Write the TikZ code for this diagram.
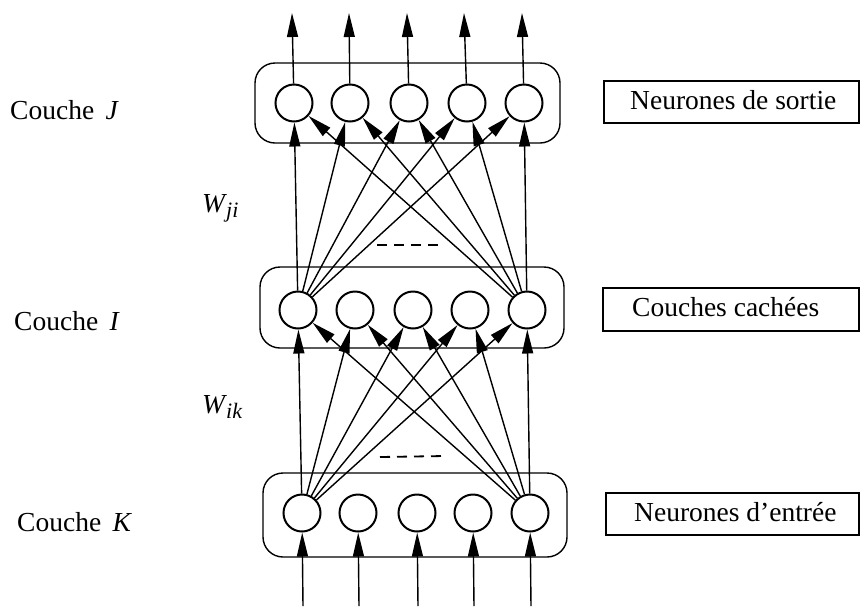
\documentclass[tikz,border=0pt]{standalone}
\usepackage{fontspec}
\setmainfont{Liberation Serif}
\usetikzlibrary{arrows.meta}
\begin{document}
\begin{tikzpicture}[x=1pt,y=-1pt,
  neuron/.style={circle,draw,line width=2pt,minimum size=37pt,inner sep=0pt},
  layerbox/.style={draw,line width=1.4pt,rounded corners=20pt,inner sep=0pt},
  namebox/.style={draw,line width=1.5pt,inner sep=0pt,anchor=north west},
  arr/.style={line width=1.4pt,-{Triangle[length=24pt,width=11pt]}},
  lbl/.style={font=\fontsize{27.5}{30}\selectfont,anchor=base west,inner sep=0pt},
  boxtext/.style={font=\fontsize{27.5}{30}\selectfont,inner sep=0pt}]
\useasboundingbox (0,0) rectangle (860,606);

% layer frames
\node[layerbox,minimum width=305pt,minimum height=80pt] (boxJ) at (407.5,103) {};
\node[layerbox,minimum width=304pt,minimum height=81pt] (boxI) at (412,307.5) {};
\node[layerbox,minimum width=304pt,minimum height=84pt] (boxK) at (415,515) {};

% neurons
\foreach \n/\x in {1/294,2/350,3/409,4/467,5/524}
  \node[neuron] (j\n) at (\x,103) {};
\foreach \n/\x in {1/298,2/355,3/413,4/470,5/527}
  \node[neuron] (i\n) at (\x,310) {};
\foreach \n/\x in {1/302,2/358,3/417,4/473,5/530}
  \node[neuron] (k\n) at (\x,513) {};

% outputs and inputs
\foreach \n/\x in {1/292,2/349,3/407,4/464,5/522}
  \coordinate (o\n) at (\x,13);
\foreach \n/\x in {1/303,2/359,3/418,4/474,5/531}
  \coordinate (in\n) at (\x,606);
\foreach \n in {1,...,5} {
  \draw[arr] (j\n) -- (o\n);
  \draw[arr] (in\n) -- (k\n);
}

% weights between layers
\foreach \t in {1,...,5} {
  \draw[arr] (i1) -- (j\t);
  \draw[arr] (i5) -- (j\t);
  \draw[arr] (k1) -- (i\t);
  \draw[arr] (k5) -- (i\t);
}

% omitted connections
\coordinate (dA1) at (377,245); \coordinate (dA2) at (441,245);
\coordinate (dB1) at (380,457); \coordinate (dB2) at (445,456);
\draw[line width=1.8pt,dash pattern=on 10pt off 7pt] (dA1) -- (dA2);
\draw[line width=1.8pt,dash pattern=on 10pt off 7pt] (dB1) -- (dB2);

% layer names
\node[lbl] (cJ) at (10,119) {Couche \,\textit{J}};
\node[lbl] (cI) at (14,330) {Couche \,\textit{I}};
\node[lbl] (cK) at (17,531) {Couche \,\textit{K}};

% weight labels
\node[lbl] (wji) at (202,212) {\textit{W}\kern-1pt\raisebox{-5pt}{\fontsize{22}{22}\selectfont\textit{ji}}};
\node[lbl] (wik) at (202,413) {\textit{W}\kern-1pt\raisebox{-5pt}{\fontsize{22}{22}\selectfont\textit{ik}}};

% role boxes
\node[namebox,minimum width=255pt,minimum height=42pt] (rJ) at (603,80) {};
\node[boxtext,anchor=west] at (630,100) {Neurones de sortie};
\node[namebox,minimum width=256pt,minimum height=43pt] (rI) at (602,287) {};
\node[boxtext,anchor=west] at (632,307) {Couches cachées};
\node[namebox,minimum width=253pt,minimum height=42pt] (rK) at (605,492) {};
\node[boxtext,anchor=west] at (634,512) {Neurones d'entrée};
\end{tikzpicture}
\end{document}
